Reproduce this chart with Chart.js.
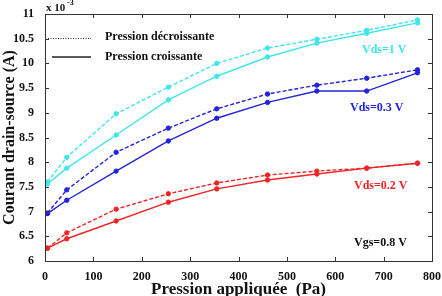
<!DOCTYPE html>
<html>
<head>
<meta charset="utf-8">
<script src="https://cdn.jsdelivr.net/npm/chart.js@4.4.0/dist/chart.umd.min.js"></script>
<style>
  html, body { margin: 0; padding: 0; background: #fff; }
  #wrap { width: 442px; height: 296px; }
</style>
</head>
<body>
<div id="wrap"><canvas id="grafico"></canvas></div>
<script>
// Pression appliquée (Pa)
const pression = [5, 45, 147, 255, 355, 460, 562, 665, 770];

// Courant drain-source (x 10^-3 A)
const vds1Dec  = [7.60, 8.10, 8.98, 9.52, 10.00, 10.31, 10.49, 10.67, 10.88];
const vds1Cro  = [7.56, 7.88, 8.55, 9.26, 9.74, 10.13, 10.41, 10.61, 10.82];
const vds03Dec = [6.97, 7.44, 8.20, 8.69, 9.08, 9.38, 9.56, 9.70, 9.87];
const vds03Cro = [6.96, 7.23, 7.82, 8.43, 8.89, 9.21, 9.44, 9.44, 9.81];
const vds02Dec = [6.26, 6.57, 7.05, 7.36, 7.58, 7.74, 7.82, 7.88, 7.98];
const vds02Cro = [6.26, 6.45, 6.81, 7.19, 7.46, 7.64, 7.76, 7.88, 7.98];

const xTicks = [0, 100, 200, 300, 400, 500, 600, 700, 800];
const yTicks = [6, 6.5, 7, 7.5, 8, 8.5, 9, 9.5, 10, 10.5, 11];
const yTickLabels = ['6', '6.5', '7', '7.5', '8', '8.5', '9', '9.5', '10', '10.5', '11'];

const cyan = '#3fe6ea';
const bleu = '#2323dc';
const rouge = '#f02626';
const serif = "'Liberation Serif', 'DejaVu Serif', serif";

function serie(valeurs, couleur, pointille) {
  return {
    data: valeurs.map((v, i) => ({ x: pression[i], y: v })),
    borderColor: couleur,
    backgroundColor: couleur,
    borderWidth: 1.4,
    borderDash: pointille ? [4, 2] : [],
    pointRadius: 2.2,
    pointBorderWidth: 1,
    tension: 0
  };
}

// legende, annotations, cadre et graduations internes
const decor = {
  id: 'decor',
  afterDraw(chart) {
    const ctx = chart.ctx;
    const a = chart.chartArea;
    const sx = chart.scales.x, sy = chart.scales.y;
    ctx.save();
    ctx.strokeStyle = '#333';
    ctx.lineWidth = 1;
    ctx.strokeRect(a.left + 0.5, a.top + 0.5, a.right - a.left, a.bottom - a.top);
    ctx.beginPath();
    xTicks.forEach(t => {
      const px = Math.round(sx.getPixelForValue(t)) + 0.5;
      ctx.moveTo(px, a.bottom); ctx.lineTo(px, a.bottom - 4);
      ctx.moveTo(px, a.top); ctx.lineTo(px, a.top + 4);
    });
    yTicks.forEach(t => {
      const py = Math.round(sy.getPixelForValue(t)) + 0.5;
      ctx.moveTo(a.left, py); ctx.lineTo(a.left + 4, py);
      ctx.moveTo(a.right, py); ctx.lineTo(a.right - 4, py);
    });
    ctx.stroke();

    // x 10^-3
    ctx.fillStyle = '#111';
    ctx.font = 'bold 11px ' + serif;
    ctx.textBaseline = 'alphabetic';
    ctx.textAlign = 'left';
    ctx.fillText('x 10', a.left + 1, a.top - 3);
    ctx.font = 'bold 8px ' + serif;
    ctx.fillText('-3', a.left + 22, a.top - 9);

    // legende
    ctx.strokeStyle = '#222';
    ctx.lineWidth = 1;
    ctx.setLineDash([1, 1.5]);
    ctx.beginPath(); ctx.moveTo(48, 38.5); ctx.lineTo(91, 38.5); ctx.stroke();
    ctx.setLineDash([]);
    ctx.lineWidth = 1.6;
    ctx.beginPath(); ctx.moveTo(52, 57); ctx.lineTo(91, 57); ctx.stroke();
    ctx.font = 'bold 12px ' + serif;
    ctx.textBaseline = 'middle';
    ctx.fillText('Pression décroissante', 105, 37);
    ctx.fillText('Pression croissante', 105, 57);

    // annotations
    ctx.font = 'bold 12px ' + serif;
    ctx.fillStyle = cyan;  ctx.fillText('Vds=1 V', 362, 50);
    ctx.fillStyle = bleu;  ctx.fillText('Vds=0.3 V', 350, 108);
    ctx.fillStyle = rouge; ctx.fillText('Vds=0.2 V', 354, 186);
    ctx.fillStyle = '#111'; ctx.fillText('Vgs=0.8 V', 354, 243);
    ctx.restore();
  }
};

const grafico = new Chart(document.getElementById('grafico'), {
  type: 'line',
  data: {
    datasets: [
      serie(vds1Dec, cyan, true),
      serie(vds1Cro, cyan, false),
      serie(vds03Dec, bleu, true),
      serie(vds03Cro, bleu, false),
      serie(vds02Dec, rouge, true),
      serie(vds02Cro, rouge, false)
    ]
  },
  options: {
    responsive: true,
    maintainAspectRatio: false,
    animation: false,
    layout: { padding: { top: 14, right: 9, left: 0, bottom: 0 } },
    plugins: { legend: { display: false }, tooltip: { enabled: false } },
    scales: {
      x: {
        type: 'linear', min: 0, max: 800,
        afterBuildTicks: s => { s.ticks = xTicks.map(v => ({ value: v })); },
        afterFit: s => { s.height = 35; },
        grid: { display: false },
        border: { display: false },
        ticks: { color: '#111', padding: 1, font: { family: serif, size: 12, weight: 'bold' } },
        title: {
          display: true, text: 'Pression appliquée  (Pa)', color: '#111',
          padding: { top: 3, bottom: -4 },
          font: { family: serif, size: 17, weight: 'bold' }
        }
      },
      y: {
        min: 6, max: 11,
        afterBuildTicks: s => { s.ticks = yTicks.map(v => ({ value: v })); },
        afterFit: s => { s.width = 45; },
        grid: { display: false },
        border: { display: false },
        ticks: {
          color: '#111', padding: 3,
          font: { family: serif, size: 12, weight: 'bold' },
          callback: (v, i) => yTickLabels[i]
        },
        title: {
          display: true, text: 'Courant drain-source (A)', color: '#111',
          padding: { top: 0, bottom: 0 },
          font: { family: serif, size: 16, weight: 'bold' }
        }
      }
    }
  },
  plugins: [decor]
});
</script>
</body>
</html>
